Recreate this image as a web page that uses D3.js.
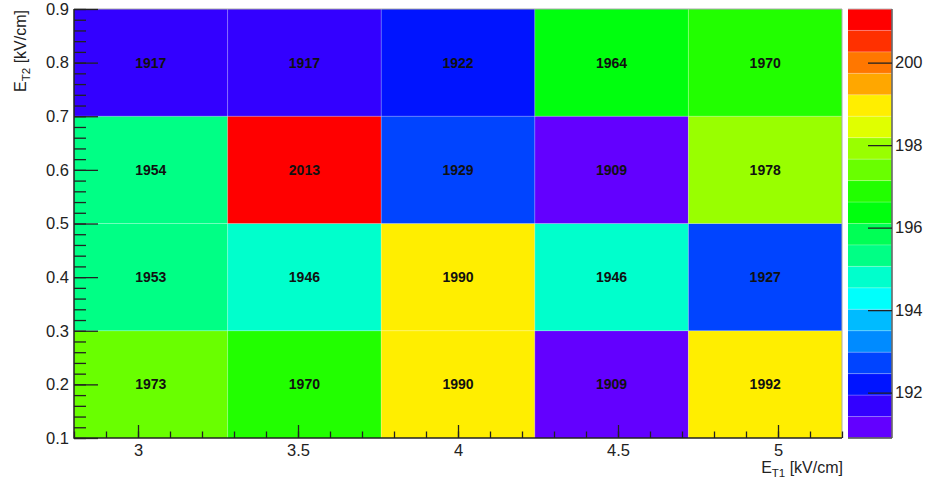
<!DOCTYPE html>
<html>
<head>
<meta charset="utf-8">
<script src="https://cdn.jsdelivr.net/npm/d3@7"></script>
<style>
  body { margin: 0; background: #fff; }
  text { font-family: "Liberation Sans", Arial, Helvetica, sans-serif; }
</style>
</head>
<body>
<svg id="chart" width="926" height="480"></svg>
<script>
// Bin edges of the 2D histogram
const xEdges = [2.8, 3.28, 3.76, 4.24, 4.72, 5.2];
const yEdges = [0.1, 0.3, 0.5, 0.7, 0.9];

// Bin contents, row 0 = lowest E_T2 bin, column 0 = lowest E_T1 bin
const row0 = [1973, 1970, 1990, 1909, 1992];
const row1 = [1953, 1946, 1990, 1946, 1927];
const row2 = [1954, 2013, 1929, 1909, 1978];
const row3 = [1917, 1917, 1922, 1964, 1970];
const counts = [row0, row1, row2, row3];

// Axis ticks
const xMajorTicks = [3, 3.5, 4, 4.5, 5];
const yMajorTicks = [0.1, 0.2, 0.3, 0.4, 0.5, 0.6, 0.7, 0.8, 0.9];
const zTickLabels = [192, 194, 196, 198, 200];

// 20-level rainbow palette (violet -> red)
const palette = [
  "#6300ff", "#3300ff", "#0014ff", "#0044ff", "#008bff",
  "#00bbff", "#00fffc", "#00ffcc", "#00ff85", "#00ff55",
  "#00ff0e", "#22ff00", "#69ff00", "#99ff00", "#e0ff00",
  "#ffee00", "#ffa700", "#ff7700", "#ff3000", "#ff0000"
];

const svg = d3.select("#chart");
const frame = { left: 74, right: 842, top: 9, bottom: 438 };
const pal = { left: 848, right: 892, top: 9, bottom: 438 };

const x = d3.scaleLinear().domain([xEdges[0], xEdges[xEdges.length - 1]]).range([frame.left, frame.right]);
const y = d3.scaleLinear().domain([yEdges[0], yEdges[yEdges.length - 1]]).range([frame.bottom, frame.top]);

const allValues = counts.flat();
const zExtent = d3.extent(allValues);
const color = d3.scaleQuantize().domain(zExtent).range(palette);

// Cells
const cells = [];
counts.forEach((row, j) => row.forEach((v, i) => cells.push({ i, j, v })));

const gCells = svg.append("g");
gCells.selectAll("rect").data(cells).join("rect")
  .attr("x", d => x(xEdges[d.i]))
  .attr("y", d => y(yEdges[d.j + 1]))
  .attr("width", d => x(xEdges[d.i + 1]) - x(xEdges[d.i]))
  .attr("height", d => y(yEdges[d.j]) - y(yEdges[d.j + 1]))
  .attr("fill", d => color(d.v));

// faint seams between neighbouring cells
gCells.selectAll("line.vx").data(xEdges.slice(1, -1)).join("line")
  .attr("class", "vx")
  .attr("x1", d => x(d)).attr("x2", d => x(d))
  .attr("y1", frame.top).attr("y2", frame.bottom)
  .attr("stroke", "#fff").attr("stroke-opacity", 0.25).attr("stroke-width", 1);
gCells.selectAll("line.hy").data(yEdges.slice(1, -1)).join("line")
  .attr("class", "hy")
  .attr("y1", d => y(d)).attr("y2", d => y(d))
  .attr("x1", frame.left).attr("x2", frame.right)
  .attr("stroke", "#fff").attr("stroke-opacity", 0.25).attr("stroke-width", 1);

// Cell value labels
gCells.selectAll("text").data(cells).join("text")
  .attr("x", d => (x(xEdges[d.i]) + x(xEdges[d.i + 1])) / 2)
  .attr("y", d => (y(yEdges[d.j]) + y(yEdges[d.j + 1])) / 2)
  .attr("dy", "0.35em")
  .attr("text-anchor", "middle")
  .attr("font-size", 14)
  .attr("font-weight", "bold")
  .attr("fill", "#111")
  .text(d => d.v);

// Frame top/right border
svg.append("path")
  .attr("d", `M${frame.left},${frame.top}H${frame.right}V${frame.bottom}`)
  .attr("fill", "none").attr("stroke", "#aaa").attr("stroke-width", 1);

// Minor ticks
const xMinor = d3.range(Math.round(xEdges[0] * 10), Math.round(xEdges[xEdges.length - 1] * 10) + 1).map(v => v / 10);
const yMinor = d3.range(Math.round(yEdges[0] * 50), Math.round(yEdges[yEdges.length - 1] * 50) + 1).map(v => v / 50);

const axisStyle = g => {
  g.select(".domain").remove();
  g.selectAll("line").attr("stroke", "#222").attr("stroke-width", 1.3);
  g.selectAll("text").attr("fill", "#222").attr("font-size", 16.5);
};

svg.append("g")
  .attr("transform", `translate(0,${frame.bottom})`)
  .call(d3.axisBottom(x).tickValues(xMinor).tickSize(-6.5).tickFormat(""))
  .call(axisStyle);
svg.append("g")
  .attr("transform", `translate(0,${frame.bottom})`)
  .call(d3.axisBottom(x).tickValues(xMajorTicks).tickSize(-13).tickPadding(6).tickFormat(d3.format("~g")))
  .call(axisStyle);

svg.append("g")
  .attr("transform", `translate(${frame.left},0)`)
  .call(d3.axisLeft(y).tickValues(yMinor).tickSize(-12).tickFormat(""))
  .call(axisStyle);
svg.append("g")
  .attr("transform", `translate(${frame.left},0)`)
  .call(d3.axisLeft(y).tickValues(yMajorTicks).tickSize(-24).tickPadding(5).tickFormat(d3.format(".1f")))
  .call(axisStyle);

// Axis lines
svg.append("path")
  .attr("d", `M${frame.left},${frame.top}V${frame.bottom}H${frame.right}`)
  .attr("fill", "none").attr("stroke", "#222").attr("stroke-width", 1.5);

// Axis titles
const xTitle = svg.append("text")
  .attr("x", frame.right + 1).attr("y", 473)
  .attr("text-anchor", "end").attr("font-size", 16).attr("fill", "#222");
xTitle.append("tspan").text("E");
xTitle.append("tspan").attr("dy", 4).attr("font-size", 11.5).text("T1");
xTitle.append("tspan").attr("dy", -4).text(" [kV/cm]");

const yTitle = svg.append("text")
  .attr("transform", `translate(25.5,${frame.top + 1}) rotate(-90)`)
  .attr("text-anchor", "end").attr("font-size", 16).attr("fill", "#222");
yTitle.append("tspan").text("E");
yTitle.append("tspan").attr("dy", 4).attr("font-size", 11.5).text("T2");
yTitle.append("tspan").attr("dy", -4).text(" [kV/cm]");

// Colour palette
const bandIdx = d3.range(palette.length);
const bandH = (pal.bottom - pal.top) / palette.length;
const gPal = svg.append("g");
gPal.selectAll("rect").data(bandIdx).join("rect")
  .attr("x", pal.left).attr("width", pal.right - pal.left)
  .attr("y", d => pal.bottom - (d + 1) * bandH)
  .attr("height", bandH)
  .attr("fill", d => palette[d]);
gPal.selectAll("line").data(bandIdx.slice(1)).join("line")
  .attr("x1", pal.left).attr("x2", pal.right)
  .attr("y1", d => pal.bottom - d * bandH).attr("y2", d => pal.bottom - d * bandH)
  .attr("stroke", "#fff").attr("stroke-opacity", 0.25);
gPal.append("path")
  .attr("d", `M${pal.left},${pal.top}H${pal.right}V${pal.bottom}H${pal.left}`)
  .attr("fill", "none").attr("stroke", "#bbb").attr("stroke-width", 1);
gPal.append("line")
  .attr("x1", pal.right).attr("x2", pal.right).attr("y1", pal.top).attr("y2", pal.bottom)
  .attr("stroke", "#555").attr("stroke-width", 1.3);
gPal.append("line")
  .attr("x1", pal.left).attr("x2", pal.right).attr("y1", pal.bottom).attr("y2", pal.bottom)
  .attr("stroke", "#555").attr("stroke-width", 1.3);

const z = d3.scaleLinear().domain(zExtent.map(v => v / 10)).range([pal.bottom, pal.top]);
svg.append("g")
  .attr("transform", `translate(${pal.right},0)`)
  .call(d3.axisRight(z).tickValues(zTickLabels).tickSize(-24).tickPadding(3).tickFormat(d3.format("d")))
  .call(axisStyle);
</script>
</body>
</html>
